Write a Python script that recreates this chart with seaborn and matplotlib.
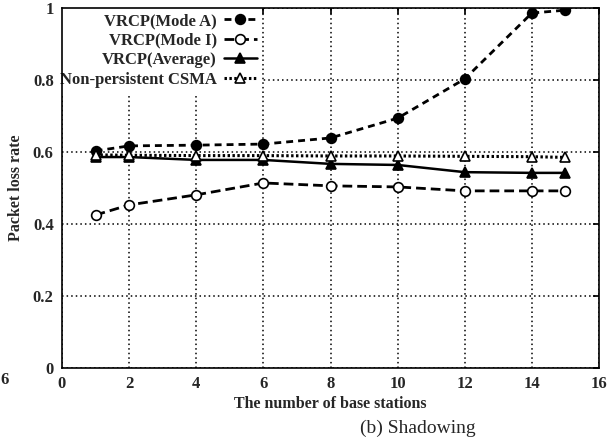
import matplotlib
matplotlib.use("Agg")
import matplotlib.pyplot as plt
import seaborn as sns
import pandas as pd

stations = [1, 2, 4, 6, 8, 10, 12, 14, 15]
mode_a = [0.603, 0.617, 0.619, 0.622, 0.639, 0.694, 0.803, 0.986, 0.994]
mode_i = [0.425, 0.453, 0.481, 0.514, 0.506, 0.503, 0.492, 0.492, 0.492]
average = [0.586, 0.586, 0.578, 0.578, 0.567, 0.564, 0.544, 0.542, 0.542]
csma = [0.592, 0.591, 0.590, 0.590, 0.589, 0.589, 0.588, 0.587, 0.585]
series_names = ["VRCP(Mode A)", "VRCP(Mode I)", "VRCP(Average)", "Non-persistent CSMA"]
xticks = [0, 2, 4, 6, 8, 10, 12, 14, 16]
yticks = [0, 0.2, 0.4, 0.6, 0.8, 1]

sns.set_theme(style="white")
plt.rcParams['font.family'] = ['Liberation Serif', 'DejaVu Serif']

df = pd.DataFrame({"x": stations * 4,
                   "y": mode_a + mode_i + average + csma,
                   "s": sum([[n] * len(stations) for n in series_names], [])})

fig = plt.figure(figsize=(6.16, 4.43), dpi=100)
ax = fig.add_axes([62/616, 1 - 368/443, (599-62)/616, (368-8)/443])

styles = {
    series_names[0]: dict(ls=(0, (2.5, 1.8)), marker='o', mfc='black', ms=7, lw=2.0),
    series_names[1]: dict(ls=(0, (3.5, 1.8)), marker='o', mfc='white', ms=7, lw=2.0),
    series_names[2]: dict(ls='-', marker='^', mfc='black', ms=7, lw=1.8),
    series_names[3]: dict(ls=(0, (0.8, 0.8)), marker='^', mfc='white', ms=6.5, lw=2.2),
}
for name in series_names:
    sub = df[df.s == name]
    st = styles[name]
    sns.lineplot(data=sub, x="x", y="y", ax=ax, color='black', label=name,
                 linestyle=st['ls'], linewidth=st['lw'], marker=st['marker'],
                 markerfacecolor=st['mfc'], markeredgecolor='black',
                 markersize=st['ms'], markeredgewidth=1.2)

ax.set_xlim(0, 16)
ax.set_ylim(0, 1)
ax.set_xticks(xticks)
ax.set_yticks(yticks)
ax.set_xticklabels([str(t) for t in xticks], fontweight='bold', fontsize=12)
ax.set_yticklabels(["0", "0.2", "0.4", "0.6", "0.8", "1"], fontweight='bold', fontsize=12)
ax.grid(True, color='black', linestyle=(0, (1, 2)), linewidth=1.1)
ax.tick_params(direction='in', length=4, top=True, right=True, color='black', pad=6)
for sp in ax.spines.values():
    sp.set_color('black')
    sp.set_linewidth(1.2)
ax.set_xlabel("The number of base stations", fontweight='bold', fontsize=11.5, labelpad=3)
ax.set_ylabel("Packet loss rate", fontweight='bold', fontsize=11.5, labelpad=6)

leg = ax.legend(loc='upper right', bbox_to_anchor=((262-62)/537, 1.0), frameon=True,
                facecolor='white', edgecolor='none', framealpha=1.0, fancybox=False,
                markerfirst=False, handlelength=2.0,
                prop={'weight': 'bold', 'size': 12}, labelspacing=0.22,
                handletextpad=0.4, borderaxespad=0.0, borderpad=0.3)
leg.set_zorder(2.4)

fig.text(418/616, 1 - 428/443, "(b) Shadowing", ha='center', va='center', fontsize=14)
fig.text(5/616, 1 - 380/443, "6", ha='center', va='center', fontsize=12, fontweight='bold')

fig.savefig("out.png", dpi=100)
